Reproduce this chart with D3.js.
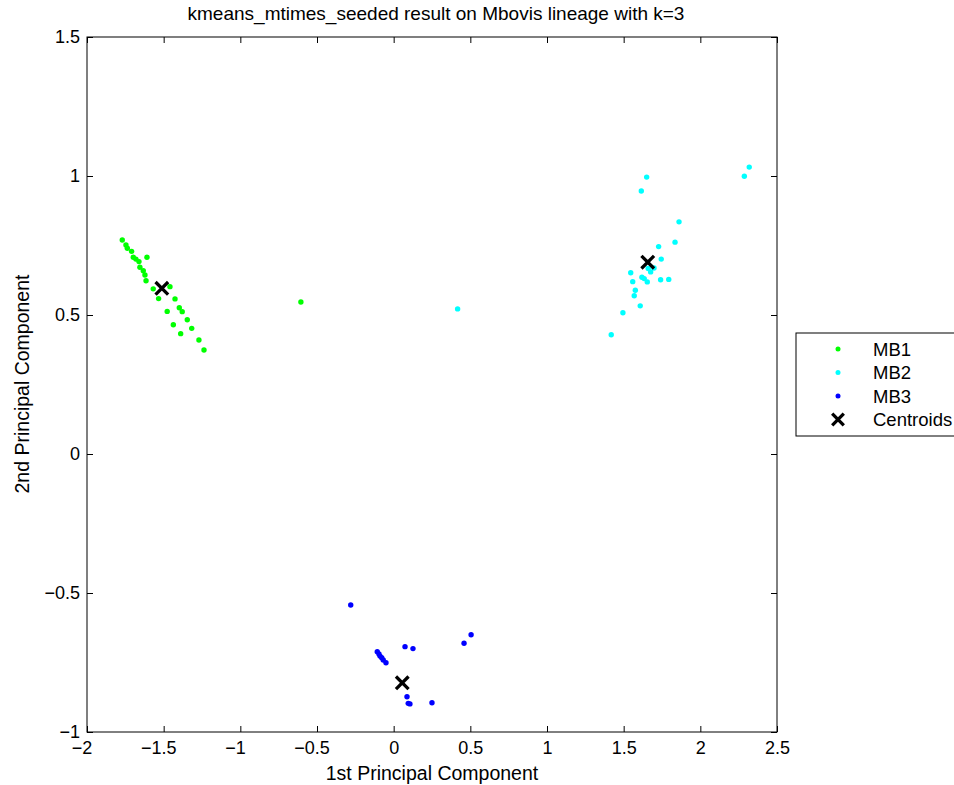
<!DOCTYPE html>
<html>
<head>
<meta charset="utf-8">
<script src="https://cdn.jsdelivr.net/npm/d3@7"></script>
<style>
  body { margin: 0; background: #fff; }
  text { font-family: "Liberation Sans", Arial, sans-serif; }
</style>
</head>
<body>
<svg id="chart" width="954" height="785"></svg>
<script>
const width = 954;
const height = 785;

// cluster MB1 (green)
const mb1 = [
    [-1.770, 0.770], [-1.746, 0.752], [-1.737, 0.740], [-1.709, 0.729], [-1.698, 0.708],
    [-1.681, 0.701], [-1.661, 0.692], [-1.609, 0.708], [-1.655, 0.672], [-1.633, 0.659],
    [-1.622, 0.644], [-1.615, 0.623], [-1.568, 0.594], [-1.459, 0.602], [-1.533, 0.559],
    [-1.426, 0.558], [-1.398, 0.526], [-1.379, 0.512], [-1.477, 0.513], [-1.346, 0.483],
    [-1.437, 0.465], [-1.317, 0.452], [-1.389, 0.433], [-1.270, 0.410], [-1.237, 0.374],
    [-0.605, 0.547]
];
// cluster MB2 (cyan)
const mb2 = [
    [1.650, 0.996], [1.615, 0.946], [2.287, 0.999], [2.319, 1.032], [1.861, 0.835],
    [1.835, 0.762], [1.728, 0.746], [1.745, 0.701], [1.698, 0.669], [1.660, 0.667],
    [1.676, 0.655], [1.546, 0.652], [1.619, 0.636], [1.634, 0.631], [1.654, 0.619],
    [1.741, 0.627], [1.794, 0.628], [1.559, 0.620], [1.576, 0.589], [1.569, 0.569],
    [1.608, 0.533], [1.495, 0.508], [1.419, 0.429], [0.417, 0.522]
];
// cluster MB3 (blue)
const mb3 = [
    [-0.280, -0.543], [-0.107, -0.711], [-0.096, -0.719], [-0.089, -0.727], [-0.078, -0.733],
    [-0.068, -0.741], [-0.050, -0.751], [0.074, -0.693], [0.126, -0.700], [0.459, -0.681],
    [0.505, -0.650], [0.087, -0.873], [0.095, -0.897], [0.106, -0.899], [0.250, -0.895]
];
const centroids = [[-1.512, 0.596], [1.657, 0.690], [0.056, -0.823]];

const xTicks = [-2, -1.5, -1, -0.5, 0, 0.5, 1, 1.5, 2, 2.5];
const yTicks = [-1, -0.5, 0, 0.5, 1, 1.5];

const series = [
    { name: "MB1", color: "#00ff00", pts: mb1 },
    { name: "MB2", color: "#00ffff", pts: mb2 },
    { name: "MB3", color: "#0000ff", pts: mb3 }
];

const svg = d3.select("#chart");
const plotL = 87, plotR = 777, plotT = 37, plotB = 732;

const x = d3.scaleLinear().domain([-2, 2.5]).range([plotL, plotR]);
const y = d3.scaleLinear().domain([-1, 1.5]).range([plotB, plotT]);

const fmt = d => String(d).replace("-", "\u2212");

// frame
svg.append("rect")
    .attr("x", plotL).attr("y", plotT)
    .attr("width", plotR - plotL).attr("height", plotB - plotT)
    .attr("fill", "#fff").attr("stroke", "#000").attr("stroke-width", 1);

// axes with inward ticks
const styleAxis = g => {
    g.select(".domain").remove();
    g.selectAll("line").attr("stroke", "#000");
    g.selectAll("text").style("font-size", "18px").attr("fill", "#000")
        .style("font-family", "'Liberation Sans', Arial, sans-serif");
};

svg.append("g")
    .attr("transform", `translate(0,${plotB})`)
    .call(d3.axisBottom(x).tickValues(xTicks).tickFormat(fmt).tickSizeInner(-6).tickPadding(9))
    .call(styleAxis)
    .selectAll("text")
    .attr("dx", d => d < 0 ? "-0.3em" : 0);
svg.append("g")
    .attr("transform", `translate(0,${plotT})`)
    .call(d3.axisTop(x).tickValues(xTicks).tickFormat("").tickSizeInner(-6))
    .call(styleAxis);
svg.append("g")
    .attr("transform", `translate(${plotL},0)`)
    .call(d3.axisLeft(y).tickValues(yTicks).tickFormat(fmt).tickSizeInner(-6).tickPadding(7))
    .call(styleAxis);
svg.append("g")
    .attr("transform", `translate(${plotR},0)`)
    .call(d3.axisRight(y).tickValues(yTicks).tickFormat("").tickSizeInner(-6))
    .call(styleAxis);

// points
series.forEach(s => {
    svg.append("g").selectAll("circle")
        .data(s.pts)
        .enter()
        .append("circle")
        .attr("cx", d => x(d[0]))
        .attr("cy", d => y(d[1]))
        .attr("r", 2.7)
        .attr("fill", s.color);
});

// centroid crosses
const cross = (g, cx, cy, r) => {
    g.append("path")
        .attr("d", `M${cx - r},${cy - r}L${cx + r},${cy + r}M${cx - r},${cy + r}L${cx + r},${cy - r}`)
        .attr("stroke", "#000").attr("stroke-width", 3.3).attr("fill", "none");
};
const cg = svg.append("g");
centroids.forEach(d => cross(cg, x(d[0]), y(d[1]), 6.3));

// title and labels
svg.append("text")
    .attr("x", 436).attr("y", 20)
    .attr("text-anchor", "middle")
    .style("font-size", "19px")
    .text("kmeans_mtimes_seeded result on Mbovis lineage with k=3");

svg.append("text")
    .attr("x", 432).attr("y", 780)
    .attr("text-anchor", "middle")
    .style("font-size", "19.5px")
    .text("1st Principal Component");

svg.append("text")
    .attr("transform", "translate(29,384) rotate(-90)")
    .attr("text-anchor", "middle")
    .style("font-size", "19.5px")
    .text("2nd Principal Component");

// legend
const legend = svg.append("g");
legend.append("rect")
    .attr("x", 796).attr("y", 333)
    .attr("width", 170).attr("height", 103)
    .attr("fill", "#fff").attr("stroke", "#000").attr("stroke-width", 1);

const legendItems = series.map(s => ({ name: s.name, color: s.color })).concat([{ name: "Centroids", color: null }]);
legendItems.forEach((d, i) => {
    const ly = 349 + i * 23.5;
    if (d.color) {
        legend.append("circle").attr("cx", 838).attr("cy", ly).attr("r", 2.5).attr("fill", d.color);
    } else {
        cross(legend, 838, ly, 5.8);
    }
    legend.append("text")
        .attr("x", 873).attr("y", ly + 6.5)
        .style("font-size", "18.5px")
        .text(d.name);
});
</script>
</body>
</html>
